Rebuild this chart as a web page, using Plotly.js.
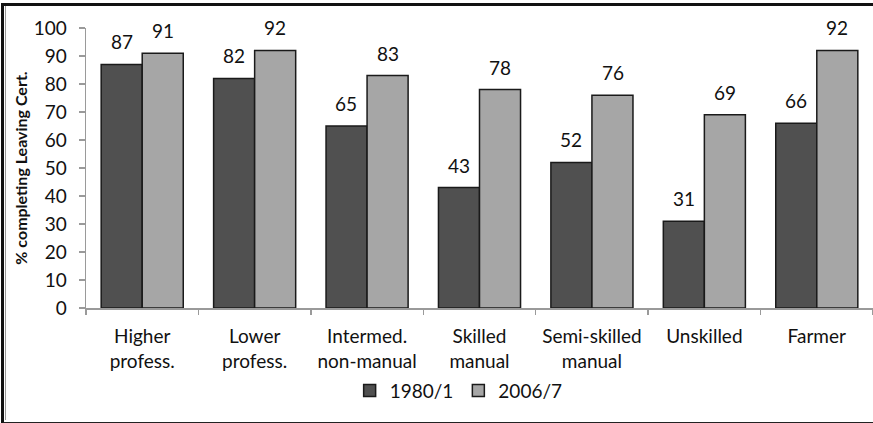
<!DOCTYPE html>
<html>
<head>
<meta charset="utf-8">
<script src="https://cdn.plot.ly/plotly-3.0.1.min.js"></script>
<style>
html, body { margin: 0; padding: 0; background: #fff; }
#wrap { position: relative; width: 873px; height: 423px; overflow: hidden; }
#chart { width: 873px; height: 423px; }
#frame { position: absolute; left: 1px; top: 3px; width: 880px; height: 416px;
  border-left: 3px solid #111; border-top: 3px solid #111; border-bottom: 2px solid #222;
  pointer-events: none; }
#frame2 { position: absolute; left: 5px; top: 6px; width: 1px; height: 414px; background: #999; pointer-events: none; }
</style>
</head>
<body>
<div id="wrap">
<div id="chart"></div>
<div id="frame"></div>
<div id="frame2"></div>
</div>
<script>
const categories = ["Higher<br>profess.", "Lower<br>profess.", "Intermed.<br>non-manual", "Skilled<br>manual", "Semi-skilled<br>manual", "Unskilled", "Farmer"];
const seriesNames = ["1980/1", "2006/7"];
const values1980 = [87, 82, 65, 43, 52, 31, 66];
const values2006 = [91, 92, 83, 78, 76, 69, 92];
const yTicks = [0, 10, 20, 30, 40, 50, 60, 70, 80, 90, 100];

const FONT = "Lato, 'Open Sans', sans-serif";
const FS = 19;
const colors = ["#505050", "#a6a6a6"];
const barShift = 20.6;

const traces = [values1980, values2006].map((vals, i) => ({
  type: "bar",
  name: seriesNames[i],
  x: categories,
  y: vals,
  marker: { color: colors[i], line: { color: "#1a1a1a", width: 1.5 } },
  hoverinfo: "skip"
}));

const annotations = [];
[values1980, values2006].forEach((vals, i) => {
  vals.forEach((v, j) => {
    annotations.push({
      x: categories[j], y: v, xref: "x", yref: "y",
      text: String(v), showarrow: false,
      xshift: i === 0 ? -barShift : barShift,
      yanchor: "bottom", yshift: 9,
      font: { family: FONT, size: FS, color: "#111" }
    });
  });
});

const layout = {
  width: 873, height: 423,
  margin: { l: 86, r: 0, t: 28, b: 115 },
  paper_bgcolor: "#fff", plot_bgcolor: "#fff",
  font: { family: FONT, size: FS, color: "#111" },
  barmode: "group", bargap: 0.27, bargroupgap: 0,
  showlegend: true,
  legend: {
    orientation: "h", x: 0.335, xanchor: "left", y: -0.295, yanchor: "middle",
    font: { family: FONT, size: FS, color: "#111" },
    itemwidth: 30, tracegroupgap: 0
  },
  xaxis: {
    type: "category",
    showline: true, linecolor: "#9a9a9a", linewidth: 1.5,
    ticks: "outside", tickson: "boundaries", ticklen: 5, tickcolor: "#9a9a9a", tickwidth: 1.5,
    showgrid: false, zeroline: false,
    tickfont: { family: FONT, size: FS, color: "#111" },
    ticklabelstandoff: 11
  },
  yaxis: {
    range: [0, 100], tickvals: yTicks,
    showline: true, linecolor: "#9a9a9a", linewidth: 1.5,
    ticks: "outside", ticklen: 6, tickcolor: "#9a9a9a", tickwidth: 1.5,
    showgrid: false, zeroline: false,
    tickfont: { family: FONT, size: FS, color: "#111" },
    ticklabelstandoff: 8,
    title: { text: "<b>% completing Leaving Cert.</b>", font: { family: FONT, size: 16, color: "#111" }, standoff: 2 }
  },
  annotations: annotations
};

Plotly.newPlot("chart", traces, layout, { displayModeBar: false, staticPlot: true });
</script>
</body>
</html>
